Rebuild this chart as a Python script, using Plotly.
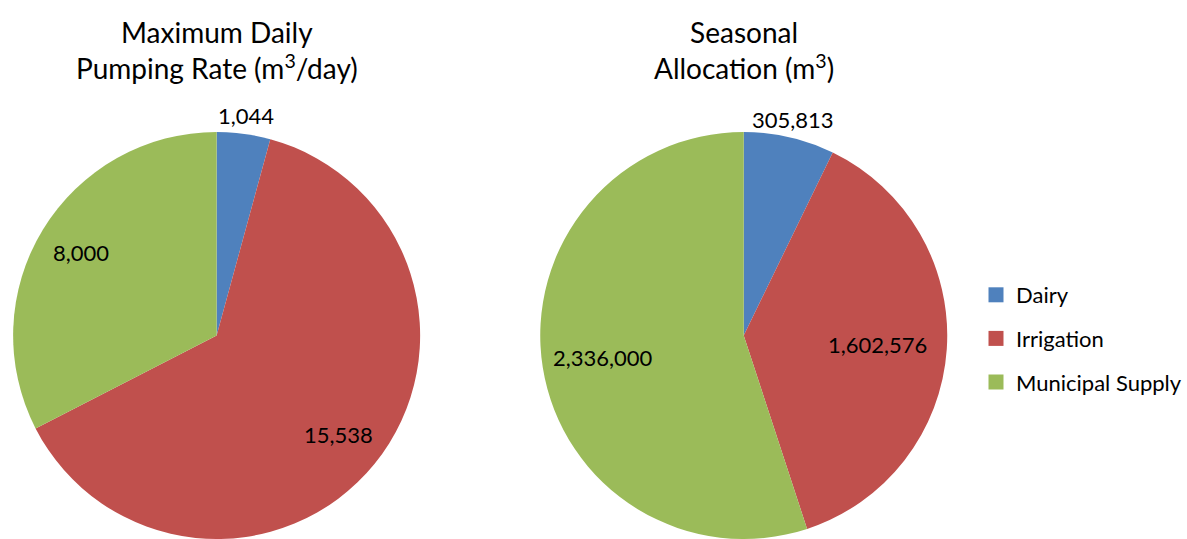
import math
import plotly.graph_objects as go

# Water use by sector
categories = ["Dairy", "Irrigation", "Municipal Supply"]
max_daily_rate = [1044, 15538, 8000]          # m3/day
seasonal_allocation = [305813, 1602576, 2336000]  # m3

colors = ["#4F81BD", "#C0504D", "#9BBB59"]
FONT = "Lato"
W, H = 1187, 539

# pie placement in pixels (centre x, top edge, radius)
pies = [
    dict(values=max_daily_rate, cx=217, top=132, r=205,
         title="Maximum Daily<br>Pumping Rate (m<sup>3</sup>/day)",
         label_r=[1.09, 0.77, 0.78]),
    dict(values=seasonal_allocation, cx=745, top=132, r=205,
         title="Seasonal<br>Allocation (m<sup>3</sup>)",
         label_r=[1.09, 0.66, 0.70]),
]

fig = go.Figure()
annotations = []

for p in pies:
    x0 = (p["cx"] - p["r"]) / W
    x1 = (p["cx"] + p["r"]) / W
    y1 = 1 - p["top"] / H
    y0 = 0.0
    fig.add_trace(go.Pie(
        labels=categories, values=p["values"],
        sort=False, direction="clockwise", rotation=0,
        marker=dict(colors=colors, line=dict(width=0)),
        textinfo="none", hoverinfo="label+value",
        showlegend=False,
        domain=dict(x=[x0, x1], y=[y0, y1]),
    ))
    # actual radius plotly uses: half the smaller domain side
    R = min((x1 - x0) * W, (y1 - y0) * H) / 2
    cy = p["top"] + R
    total = sum(p["values"])
    cum = 0
    for v, rf in zip(p["values"], p["label_r"]):
        theta = 2 * math.pi * (cum + v / 2) / total
        cum += v
        px = p["cx"] + rf * R * math.sin(theta)
        py = cy - rf * R * math.cos(theta)
        annotations.append(dict(
            x=px / W, y=1 - py / H, xref="paper", yref="paper",
            text=f"{v:,}", showarrow=False,
            font=dict(family=FONT, size=22, color="#000000"),
            xanchor="center", yanchor="middle",
        ))
    annotations.append(dict(
        x=p["cx"] / W, y=1 - 50 / H, xref="paper", yref="paper",
        text=p["title"], showarrow=False, align="center",
        font=dict(family=FONT, size=28, color="#000000"),
        xanchor="center", yanchor="middle",
    ))

# legend entries
for i, (name, c) in enumerate(zip(categories, colors)):
    fig.add_trace(go.Scatter(
        x=[None], y=[None], mode="markers", name=name,
        legendgroup=name,
        marker=dict(symbol="square", size=15, color=c),
        hoverinfo="skip",
    ))

fig.update_layout(
    width=W, height=H,
    margin=dict(l=0, r=0, t=0, b=0),
    paper_bgcolor="white", plot_bgcolor="white",
    xaxis=dict(visible=False), yaxis=dict(visible=False),
    annotations=annotations,
    showlegend=True,
    legend=dict(
        x=978 / W, y=1 - 274 / H, xanchor="left", yanchor="top",
        font=dict(family=FONT, size=22, color="#000000"),
        tracegroupgap=12, itemsizing="trace",
        bgcolor="rgba(0,0,0,0)",
    ),
)

fig.write_html("out.html")
